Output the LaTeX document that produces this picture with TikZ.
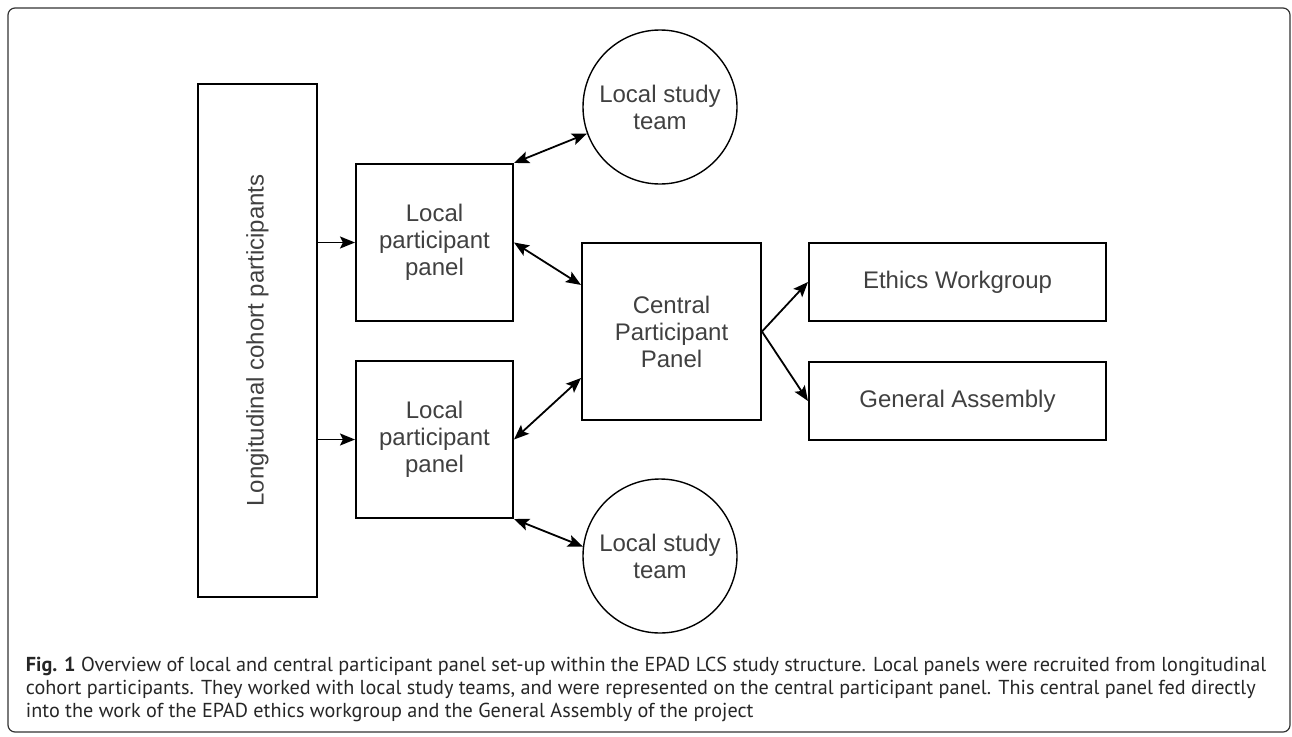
\documentclass[tikz,border=0pt]{standalone}
\usepackage{graphicx}
\usepackage{fontspec}
\setmainfont{Liberation Sans}
\newfontfamily\capfont{PT Sans}
\usetikzlibrary{arrows.meta,calc}

\begin{document}
\begin{tikzpicture}[x=1pt,y=-1pt,line width=1.8pt,>={Stealth[length=15pt,width=12pt,inset=3pt]}]
    \tikzstyle{box}=[draw,rectangle,inner sep=0pt,line width=2pt,align=center,text=black!75,font=\fontsize{24}{27}\selectfont]
    \tikzstyle{team}=[draw,circle,inner sep=0pt,minimum size=154pt,line width=1.4pt,align=center,text=black!75,font=\fontsize{24}{27}\selectfont]
    \tikzstyle{feed}=[->]
    \tikzstyle{link}=[<->]
    \tikzstyle{caption}=[anchor=base west,inner sep=0pt,text=black!85,font=\capfont\fontsize{20.2}{23}\selectfont]

    \useasboundingbox (0,0) rectangle (1292,736);
    \draw[rounded corners=7pt,line width=1.2pt,black!80] (8,8) rectangle (1290,732);

    % Draw the cohort and the local panels
    \node[box,minimum width=119pt,minimum height=513pt] (cohort) at (257.5,340.5) {\rotatebox{90}{Longitudinal cohort participants}};
    \node[box,minimum width=157pt,minimum height=157pt] (lp1) at (434.5,242.5) {Local\\participant\\panel};
    \node[box,minimum width=157pt,minimum height=157pt] (lp2) at (434.5,439.5) {Local\\participant\\panel};

    % Draw the study teams
    \node[team] (team1) at (660,107) {Local study\\team};
    \node[team] (team2) at (660,556) {Local study\\team};

    % Draw the central panel and the groups it feeds
    \node[box,minimum width=179pt,minimum height=177pt] (cp) at (671.5,331.5) {Central\\Participant\\Panel};
    \node[box,minimum width=297pt,minimum height=78pt] (ethics) at (957.5,282) {Ethics Workgroup};
    \node[box,minimum width=297pt,minimum height=78pt] (assembly) at (957.5,401) {General Assembly};

    % Connect the cohort with the local panels
    \draw[feed] (lp1.west -| cohort.east) -- (lp1.west);
    \draw[feed] (lp2.west -| cohort.east) -- (lp2.west);

    % Connect the local panels with teams and central panel
    \draw[link] (lp1.north east) -- (team1.200);
    \draw[link] (lp1.east) -- ($(cp.west)!0.52!(cp.north west)$);
    \draw[link] (lp2.east) -- ($(cp.west)!0.52!(cp.south west)$);
    \draw[link] (lp2.south east) -- (team2.173);

    % Connect the central panel with the groups
    \draw[feed] (cp.east) -- (ethics.west);
    \draw[feed] (cp.east) -- (assembly.west);

    % Caption
    \node[caption] (cap1) at (25,671) {\textbf{Fig. 1} Overview of local and central participant panel set-up within the EPAD LCS study structure. Local panels were recruited from longitudinal};
    \node[caption] (cap2) at (25,694) {cohort participants. They worked with local study teams, and were represented on the central participant panel. This central panel fed directly};
    \node[caption] (cap3) at (25,717) {into the work of the EPAD ethics workgroup and the General Assembly of the project};
\end{tikzpicture}
\end{document}
